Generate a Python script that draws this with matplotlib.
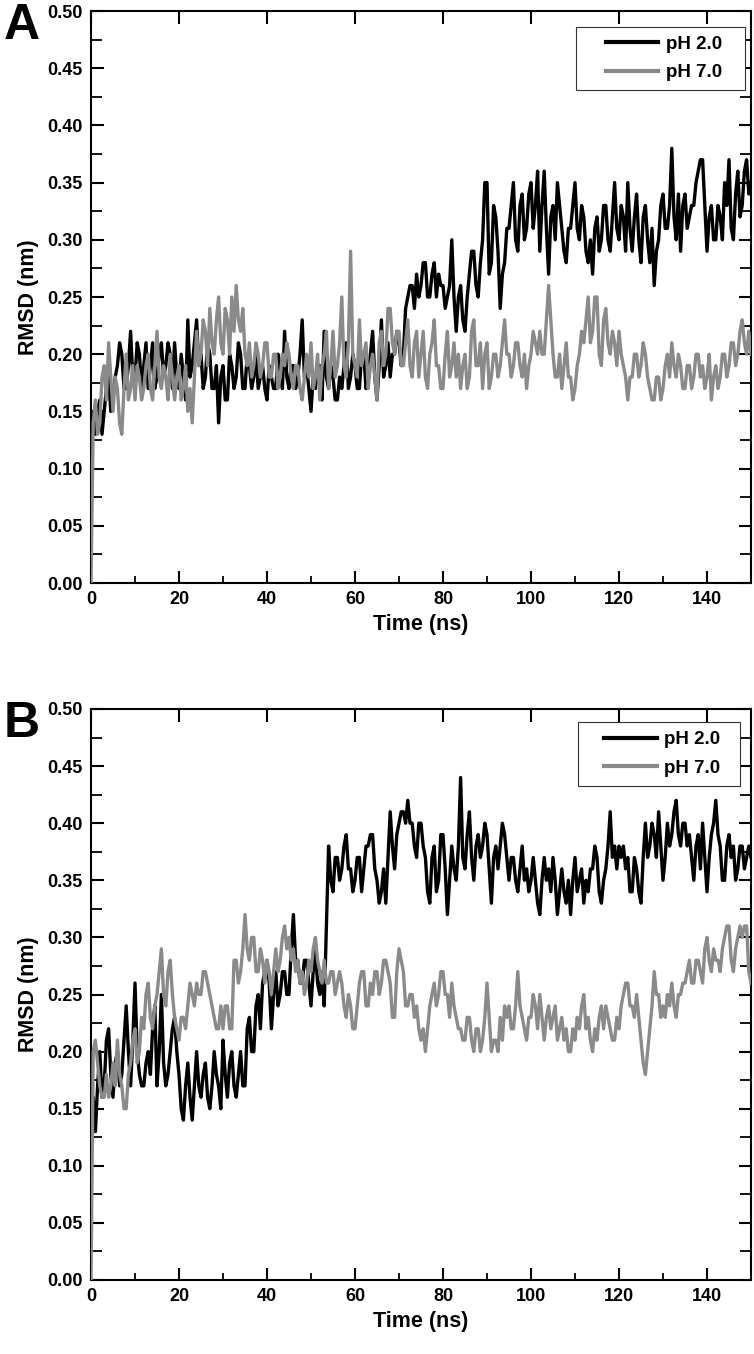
import matplotlib
matplotlib.use("Agg")
import matplotlib.pyplot as plt
from matplotlib.patches import Rectangle
from matplotlib.ticker import MultipleLocator, FormatStrFormatter

plt.rcParams['font.family'] = ['Liberation Sans', 'DejaVu Sans']
plt.rcParams['font.weight'] = 'bold'

# time axis in ns, one reading every 0.5 ns
time = [k / 2 for k in range(301)]

a_ph2 = [0.14, 0.15, 0.13, 0.15, 0.16, 0.13, 0.15, 0.17, 0.18, 0.15,
         0.16, 0.18, 0.19, 0.21, 0.20, 0.17, 0.17, 0.19, 0.22, 0.18,
         0.18, 0.21, 0.20, 0.17, 0.19, 0.21, 0.17, 0.19, 0.21, 0.17,
         0.18, 0.20, 0.21, 0.18, 0.19, 0.21, 0.20, 0.17, 0.21, 0.18,
         0.17, 0.20, 0.18, 0.16, 0.23, 0.18, 0.19, 0.21, 0.23, 0.19,
         0.20, 0.17, 0.18, 0.21, 0.20, 0.17, 0.17, 0.19, 0.14, 0.18,
         0.19, 0.16, 0.16, 0.20, 0.19, 0.17, 0.18, 0.21, 0.20, 0.17,
         0.17, 0.20, 0.19, 0.17, 0.18, 0.20, 0.17, 0.18, 0.19, 0.17,
         0.16, 0.19, 0.18, 0.17, 0.17, 0.20, 0.19, 0.17, 0.22, 0.18,
         0.17, 0.19, 0.19, 0.17, 0.18, 0.20, 0.23, 0.18, 0.19, 0.17,
         0.15, 0.18, 0.17, 0.19, 0.19, 0.16, 0.22, 0.18, 0.17, 0.19,
         0.18, 0.16, 0.16, 0.18, 0.17, 0.19, 0.21, 0.17, 0.18, 0.20,
         0.19, 0.17, 0.17, 0.20, 0.20, 0.17, 0.18, 0.20, 0.22, 0.18,
         0.16, 0.19, 0.23, 0.18, 0.19, 0.21, 0.18, 0.20, 0.20, 0.22,
         0.21, 0.19, 0.20, 0.24, 0.25, 0.26, 0.26, 0.24, 0.27, 0.25,
         0.26, 0.28, 0.28, 0.25, 0.25, 0.27, 0.28, 0.25, 0.27, 0.26,
         0.26, 0.24, 0.25, 0.26, 0.30, 0.25, 0.22, 0.25, 0.26, 0.23,
         0.22, 0.25, 0.27, 0.29, 0.29, 0.26, 0.25, 0.28, 0.30, 0.35,
         0.35, 0.27, 0.28, 0.33, 0.32, 0.29, 0.24, 0.27, 0.28, 0.31,
         0.31, 0.33, 0.35, 0.30, 0.29, 0.33, 0.34, 0.30, 0.31, 0.34,
         0.35, 0.31, 0.33, 0.36, 0.29, 0.33, 0.36, 0.31, 0.27, 0.32,
         0.33, 0.30, 0.35, 0.33, 0.31, 0.29, 0.28, 0.31, 0.31, 0.33,
         0.35, 0.31, 0.30, 0.33, 0.32, 0.29, 0.28, 0.30, 0.27, 0.31,
         0.32, 0.29, 0.30, 0.33, 0.33, 0.30, 0.29, 0.32, 0.35, 0.31,
         0.30, 0.33, 0.32, 0.29, 0.35, 0.31, 0.29, 0.32, 0.34, 0.30,
         0.28, 0.32, 0.33, 0.30, 0.28, 0.31, 0.26, 0.29, 0.30, 0.33,
         0.34, 0.31, 0.31, 0.33, 0.38, 0.32, 0.30, 0.34, 0.29, 0.33,
         0.34, 0.31, 0.32, 0.33, 0.33, 0.35, 0.36, 0.37, 0.37, 0.33,
         0.29, 0.32, 0.33, 0.30, 0.30, 0.33, 0.32, 0.30, 0.35, 0.33,
         0.37, 0.31, 0.30, 0.34, 0.36, 0.32, 0.33, 0.36, 0.37, 0.34,
         0.35]

a_ph7 = [0.00, 0.14, 0.16, 0.13, 0.14, 0.18, 0.19, 0.16, 0.21, 0.18,
         0.15, 0.18, 0.17, 0.14, 0.13, 0.17, 0.20, 0.16, 0.17, 0.19,
         0.16, 0.19, 0.18, 0.16, 0.17, 0.19, 0.20, 0.17, 0.16, 0.19,
         0.22, 0.18, 0.17, 0.19, 0.18, 0.16, 0.20, 0.18, 0.16, 0.18,
         0.19, 0.16, 0.17, 0.19, 0.15, 0.17, 0.14, 0.18, 0.22, 0.19,
         0.20, 0.23, 0.22, 0.19, 0.24, 0.21, 0.20, 0.23, 0.25, 0.21,
         0.20, 0.24, 0.23, 0.20, 0.25, 0.22, 0.26, 0.23, 0.22, 0.24,
         0.20, 0.19, 0.21, 0.18, 0.19, 0.21, 0.20, 0.18, 0.19, 0.21,
         0.21, 0.18, 0.18, 0.20, 0.20, 0.17, 0.18, 0.20, 0.19, 0.21,
         0.20, 0.18, 0.17, 0.19, 0.19, 0.17, 0.16, 0.18, 0.20, 0.18,
         0.21, 0.17, 0.18, 0.20, 0.16, 0.19, 0.20, 0.22, 0.17, 0.19,
         0.22, 0.18, 0.19, 0.21, 0.25, 0.19, 0.18, 0.21, 0.29, 0.20,
         0.19, 0.18, 0.23, 0.19, 0.20, 0.21, 0.17, 0.19, 0.20, 0.18,
         0.16, 0.21, 0.22, 0.19, 0.20, 0.24, 0.24, 0.21, 0.20, 0.22,
         0.22, 0.19, 0.19, 0.21, 0.23, 0.19, 0.18, 0.21, 0.22, 0.18,
         0.20, 0.22, 0.18, 0.17, 0.20, 0.21, 0.23, 0.19, 0.19, 0.17,
         0.17, 0.20, 0.22, 0.18, 0.19, 0.21, 0.18, 0.20, 0.17, 0.19,
         0.20, 0.17, 0.18, 0.22, 0.23, 0.19, 0.19, 0.21, 0.17, 0.20,
         0.21, 0.17, 0.18, 0.20, 0.20, 0.18, 0.19, 0.21, 0.23, 0.20,
         0.20, 0.18, 0.19, 0.21, 0.21, 0.19, 0.18, 0.20, 0.17, 0.19,
         0.20, 0.22, 0.21, 0.20, 0.22, 0.20, 0.20, 0.23, 0.26, 0.23,
         0.20, 0.18, 0.18, 0.20, 0.17, 0.19, 0.21, 0.18, 0.18, 0.16,
         0.17, 0.19, 0.20, 0.22, 0.21, 0.23, 0.25, 0.21, 0.22, 0.25,
         0.25, 0.20, 0.19, 0.23, 0.24, 0.21, 0.20, 0.22, 0.21, 0.19,
         0.22, 0.20, 0.19, 0.18, 0.16, 0.18, 0.18, 0.20, 0.20, 0.18,
         0.19, 0.21, 0.20, 0.18, 0.17, 0.16, 0.16, 0.18, 0.18, 0.16,
         0.17, 0.19, 0.20, 0.18, 0.21, 0.19, 0.18, 0.20, 0.19, 0.17,
         0.17, 0.19, 0.19, 0.17, 0.18, 0.20, 0.20, 0.18, 0.19, 0.17,
         0.18, 0.20, 0.16, 0.18, 0.19, 0.17, 0.18, 0.20, 0.20, 0.18,
         0.19, 0.21, 0.21, 0.19, 0.20, 0.22, 0.23, 0.21, 0.20, 0.22,
         0.20]

b_ph2 = [0.14, 0.16, 0.13, 0.17, 0.20, 0.16, 0.17, 0.21, 0.22, 0.18,
         0.16, 0.19, 0.20, 0.17, 0.18, 0.21, 0.24, 0.20, 0.17, 0.21,
         0.26, 0.20, 0.18, 0.17, 0.17, 0.19, 0.20, 0.18, 0.22, 0.24,
         0.17, 0.20, 0.25, 0.19, 0.17, 0.18, 0.20, 0.22, 0.23, 0.20,
         0.18, 0.15, 0.14, 0.17, 0.19, 0.16, 0.14, 0.17, 0.20, 0.17,
         0.16, 0.18, 0.19, 0.16, 0.15, 0.17, 0.20, 0.18, 0.17, 0.15,
         0.21, 0.18, 0.16, 0.19, 0.20, 0.17, 0.16, 0.18, 0.20, 0.17,
         0.17, 0.22, 0.23, 0.20, 0.20, 0.24, 0.25, 0.22, 0.26, 0.27,
         0.28, 0.26, 0.22, 0.25, 0.27, 0.24, 0.25, 0.27, 0.27, 0.25,
         0.25, 0.29, 0.32, 0.28, 0.28, 0.26, 0.26, 0.28, 0.28, 0.26,
         0.24, 0.27, 0.29, 0.26, 0.25, 0.27, 0.24, 0.31, 0.38, 0.35,
         0.34, 0.37, 0.37, 0.35, 0.36, 0.38, 0.39, 0.36, 0.36, 0.34,
         0.35, 0.37, 0.37, 0.34, 0.36, 0.38, 0.38, 0.39, 0.39, 0.36,
         0.35, 0.33, 0.34, 0.36, 0.33, 0.37, 0.41, 0.38, 0.36, 0.39,
         0.40, 0.41, 0.41, 0.40, 0.42, 0.40, 0.40, 0.38, 0.37, 0.40,
         0.40, 0.38, 0.37, 0.34, 0.33, 0.37, 0.38, 0.34, 0.35, 0.39,
         0.39, 0.36, 0.32, 0.35, 0.38, 0.36, 0.35, 0.38, 0.44, 0.37,
         0.36, 0.39, 0.41, 0.37, 0.35, 0.38, 0.39, 0.37, 0.38, 0.40,
         0.39, 0.36, 0.33, 0.37, 0.38, 0.36, 0.38, 0.40, 0.39, 0.37,
         0.35, 0.37, 0.37, 0.35, 0.34, 0.36, 0.38, 0.35, 0.36, 0.34,
         0.35, 0.37, 0.35, 0.33, 0.32, 0.35, 0.37, 0.35, 0.36, 0.34,
         0.37, 0.35, 0.32, 0.34, 0.36, 0.34, 0.33, 0.35, 0.32, 0.35,
         0.37, 0.34, 0.35, 0.36, 0.33, 0.35, 0.34, 0.36, 0.36, 0.38,
         0.37, 0.34, 0.33, 0.35, 0.36, 0.38, 0.41, 0.37, 0.38, 0.36,
         0.38, 0.37, 0.38, 0.36, 0.37, 0.34, 0.34, 0.37, 0.36, 0.34,
         0.33, 0.37, 0.40, 0.37, 0.38, 0.40, 0.39, 0.37, 0.41, 0.38,
         0.35, 0.37, 0.40, 0.38, 0.39, 0.41, 0.42, 0.39, 0.38, 0.40,
         0.40, 0.38, 0.39, 0.37, 0.35, 0.38, 0.39, 0.36, 0.40, 0.37,
         0.34, 0.37, 0.39, 0.40, 0.42, 0.39, 0.38, 0.35, 0.35, 0.38,
         0.39, 0.37, 0.38, 0.35, 0.36, 0.38, 0.38, 0.36, 0.37, 0.38,
         0.37]

b_ph7 = [0.00, 0.20, 0.21, 0.19, 0.17, 0.16, 0.16, 0.18, 0.16, 0.17,
         0.19, 0.17, 0.21, 0.18, 0.17, 0.15, 0.15, 0.18, 0.19, 0.21,
         0.22, 0.19, 0.20, 0.23, 0.22, 0.25, 0.26, 0.23, 0.22, 0.24,
         0.25, 0.27, 0.29, 0.25, 0.24, 0.27, 0.28, 0.25, 0.23, 0.22,
         0.21, 0.23, 0.23, 0.22, 0.24, 0.26, 0.25, 0.24, 0.26, 0.25,
         0.25, 0.27, 0.27, 0.26, 0.25, 0.24, 0.23, 0.22, 0.22, 0.24,
         0.22, 0.24, 0.24, 0.22, 0.22, 0.28, 0.28, 0.26, 0.27, 0.29,
         0.32, 0.29, 0.28, 0.30, 0.30, 0.27, 0.27, 0.29, 0.28, 0.26,
         0.28, 0.27, 0.25, 0.27, 0.29, 0.27, 0.28, 0.30, 0.31, 0.29,
         0.30, 0.28, 0.29, 0.27, 0.28, 0.26, 0.27, 0.25, 0.26, 0.28,
         0.27, 0.29, 0.30, 0.28, 0.27, 0.26, 0.28, 0.26, 0.26, 0.27,
         0.27, 0.25, 0.26, 0.27, 0.26, 0.24, 0.23, 0.25, 0.24, 0.22,
         0.22, 0.24, 0.26, 0.27, 0.27, 0.24, 0.24, 0.26, 0.25, 0.27,
         0.27, 0.25, 0.26, 0.28, 0.28, 0.27, 0.26, 0.23, 0.23, 0.27,
         0.29, 0.28, 0.27, 0.24, 0.24, 0.25, 0.25, 0.23, 0.24, 0.22,
         0.21, 0.22, 0.20, 0.22, 0.24, 0.25, 0.26, 0.24, 0.25, 0.27,
         0.27, 0.25, 0.25, 0.23, 0.26, 0.24, 0.23, 0.22, 0.22, 0.21,
         0.21, 0.23, 0.23, 0.21, 0.20, 0.22, 0.22, 0.20, 0.21, 0.23,
         0.26, 0.23, 0.20, 0.21, 0.21, 0.20, 0.23, 0.21, 0.24, 0.23,
         0.24, 0.22, 0.22, 0.24, 0.27, 0.24, 0.23, 0.22, 0.21, 0.23,
         0.23, 0.25, 0.24, 0.22, 0.25, 0.23, 0.21, 0.23, 0.24, 0.22,
         0.23, 0.24, 0.21, 0.22, 0.23, 0.21, 0.22, 0.20, 0.20, 0.22,
         0.21, 0.23, 0.22, 0.24, 0.25, 0.22, 0.23, 0.21, 0.20, 0.22,
         0.21, 0.23, 0.24, 0.22, 0.24, 0.23, 0.22, 0.21, 0.21, 0.23,
         0.22, 0.24, 0.25, 0.26, 0.26, 0.24, 0.24, 0.23, 0.25, 0.23,
         0.21, 0.19, 0.18, 0.20, 0.22, 0.24, 0.27, 0.25, 0.25, 0.23,
         0.24, 0.23, 0.25, 0.24, 0.26, 0.24, 0.23, 0.25, 0.25, 0.26,
         0.26, 0.27, 0.28, 0.26, 0.26, 0.28, 0.28, 0.27, 0.26, 0.29,
         0.30, 0.28, 0.27, 0.29, 0.28, 0.28, 0.27, 0.29, 0.30, 0.31,
         0.31, 0.28, 0.27, 0.29, 0.30, 0.31, 0.30, 0.31, 0.31, 0.27,
         0.26]

labels = ['pH 2.0', 'pH 7.0']
colors = ['#000000', '#8a8a8a']
panels = [('A', a_ph2, a_ph7), ('B', b_ph2, b_ph7)]

W, H = 754, 1354
fig = plt.figure(figsize=(W / 100, H / 100), dpi=100)

rects = [(91, 11, 751, 583), (91, 709, 751, 1280)]
legend_boxes = [(576, 27, 745, 90), (578, 722, 740, 786)]

for (letter, s2, s7), (x0, y0, x1, y1), (lx0, ly0, lx1, ly1) in zip(panels, rects, legend_boxes):
    ax = fig.add_axes([x0 / W, 1 - y1 / H, (x1 - x0) / W, (y1 - y0) / H])
    ax.plot(time, s2, color=colors[0], lw=2.4, label=labels[0], zorder=2)
    ax.plot(time, s7, color=colors[1], lw=2.4, label=labels[1], zorder=3)
    ax.set_xlim(0, 150)
    ax.set_ylim(0, 0.5)
    ax.xaxis.set_major_locator(MultipleLocator(20))
    ax.xaxis.set_minor_locator(MultipleLocator(10))
    ax.yaxis.set_major_locator(MultipleLocator(0.05))
    ax.yaxis.set_minor_locator(MultipleLocator(0.025))
    ax.tick_params(axis='both', which='major', direction='in', length=9, width=1.5,
                   top=True, right=True, labelsize=13, pad=6)
    ax.tick_params(axis='x', which='minor', direction='in', length=5, width=1.3,
                   top=False, bottom=True)
    ax.tick_params(axis='y', which='minor', direction='in', length=8, width=1.3,
                   left=True, right=True)
    ax.yaxis.set_major_formatter(FormatStrFormatter('%.2f'))
    for lab in ax.get_xticklabels() + ax.get_yticklabels():
        lab.set_fontweight('bold')
    for sp in ax.spines.values():
        sp.set_linewidth(1.5)
    ax.set_xlabel('Time (ns)', fontsize=15.5, fontweight='bold', labelpad=4)
    ax.set_ylabel('RMSD (nm)', fontsize=15.5, fontweight='bold', labelpad=6)

    # legend box (frame drawn separately, entries centred inside it)
    bx = (lx0 - x0) / (x1 - x0)
    by = 1 - (ly1 - y0) / (y1 - y0)
    bw = (lx1 - lx0) / (x1 - x0)
    bh = (ly1 - ly0) / (y1 - y0)
    ax.add_patch(Rectangle((bx, by), bw, bh, transform=ax.transAxes, fill=True,
                           facecolor='white', edgecolor='#333333', lw=0.8, zorder=5))
    leg = ax.legend(loc='center', bbox_to_anchor=(bx + bw / 2 + 0.005, by + bh / 2),
                    fontsize=13.5, frameon=False, handlelength=2.8, borderaxespad=0,
                    handletextpad=0.4, labelspacing=0.6, borderpad=0.0)
    leg.set_zorder(6)
    for t in leg.get_texts():
        t.set_fontweight('bold')
    for ln in leg.get_lines():
        ln.set_linewidth(3.0)
    fig.text(4 / W, 1 - (y0 - 8) / H, letter, fontsize=36, fontweight='bold', va='top', ha='left')

fig.savefig('out.png', dpi=100)
